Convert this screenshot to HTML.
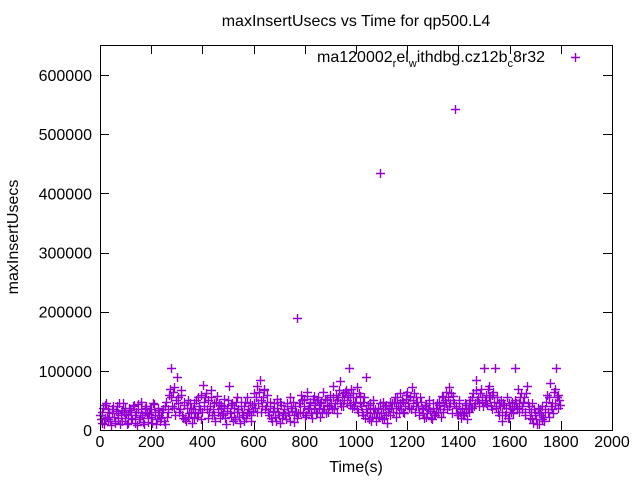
<!DOCTYPE html>
<html><head><meta charset="utf-8"><style>
html,body{margin:0;padding:0;background:#fff;}
svg text{font-family:"Liberation Sans",sans-serif;font-size:16px;fill:#000;}
</style></head><body>
<svg id="chart" width="640" height="480" xmlns="http://www.w3.org/2000/svg">
<text x="356" y="26" text-anchor="middle">maxInsertUsecs vs Time for qp500.L4</text>
<text x="356" y="472" text-anchor="middle">Time(s)</text>
<text transform="translate(18,237) rotate(-90)" text-anchor="middle">maxInsertUsecs</text>
<g id="ticks"></g>
<g id="points"></g>
<rect x="100.5" y="45.5" width="512" height="385" fill="none" stroke="#000" stroke-width="1"/>
<g>
<text x="545" y="62" text-anchor="end">ma120002<tspan font-size="11" dy="5">r</tspan><tspan dy="-5">el</tspan><tspan font-size="11" dy="5">w</tspan><tspan dy="-5">ithdbg.cz12b</tspan><tspan font-size="11" dy="5">c</tspan><tspan dy="-5">8r32</tspan></text>
<path d="M571,57.5h9M575.5,53v9" stroke="#9400d3" stroke-width="1.4"/>
</g>
</svg>
<script>
const xTicks=[0,200,400,600,800,1000,1200,1400,1600,1800,2000];
const yTicks=[0,100000,200000,300000,400000,500000,600000];
const timeStep=6;
const valuesK=[
25,12,38,20,45,18,30,8,35,22,
15,40,28,10,33,46,20,27,12,38,
30,18,42,25,9,36,22,48,14,31,
40,20,27,35,12,44,26,18,38,15,
22,35,10,48,30,60,105,40,72,25,
90,55,35,68,20,42,15,50,28,38,
12,45,30,22,55,35,18,76,40,62,
50,30,68,25,45,15,58,35,20,42,
28,52,10,38,75,22,45,30,18,55,
35,12,48,25,40,20,55,30,15,42,
62,38,75,45,85,30,55,70,40,60,
25,48,15,38,22,52,30,12,42,28,
35,18,45,25,55,32,14,40,190,28,
45,60,30,52,25,65,38,48,20,58,
42,30,55,22,48,65,35,28,50,40,
60,35,75,45,28,55,82,40,62,50,
68,45,105,55,38,62,48,72,30,58,
40,25,55,90,30,18,45,22,50,35,
15,38,435,28,48,20,42,12,35,25,
45,30,55,22,40,62,35,48,28,52,
65,38,58,72,45,30,55,40,25,48,
35,20,42,28,50,32,18,45,25,38,
30,48,22,55,40,65,35,72,45,28,
58,543,38,25,45,20,35,28,42,18,
30,50,38,62,45,85,55,40,70,48,
105,60,42,75,55,35,65,105,40,30,
25,50,15,42,30,55,20,38,48,28,
105,45,70,30,62,40,55,25,75,35,
20,45,12,30,18,38,10,25,40,15,
35,60,22,80,45,28,70,105,38,50
];
const valuesK2=[
18,30,10,42,22,35,15,28,40,12,
32,20,45,25,16,30,38,10,25,34,
20,40,12,30,44,18,35,25,10,38,
28,14,36,22,45,30,10,34,25,20,
30,15,40,22,35,70,55,65,38,50,
45,30,60,25,48,18,38,22,45,30,
35,20,50,28,40,60,30,48,55,35,
20,40,55,35,25,48,30,45,38,25,
40,20,32,50,28,42,15,38,48,30,
22,40,30,15,48,28,36,45,25,32,
45,55,30,65,50,40,68,35,48,30,
40,20,32,45,15,38,25,48,20,35,
25,40,30,15,38,48,25,30,20,45,
30,50,40,22,58,35,45,28,52,35,
30,50,38,45,28,35,52,42,30,55,
45,55,38,60,50,68,45,55,40,65,
50,60,42,70,48,40,55,35,62,45,
30,48,20,35,42,28,15,38,28,20,
30,22,45,18,35,40,25,30,48,38,
30,48,38,55,28,45,50,30,40,60,
45,55,35,50,62,40,48,30,55,38,
28,40,22,35,45,20,38,28,30,45,
42,35,58,30,50,45,55,40,62,50,
45,40,28,50,30,38,25,45,30,35,
45,38,55,40,68,50,45,62,55,40,
50,45,70,55,40,60,48,38,55,45,
40,30,45,25,38,20,45,30,35,40,
50,38,45,55,35,48,30,62,45,40,
30,18,35,25,10,28,35,18,22,30,
48,30,55,40,35,65,45,55,60,42
];
const NS='http://www.w3.org/2000/svg';
const X0=100,X1=612,Y0=430,Y1=75;
function xs(v){return X0+(v-0)/2000*(X1-X0);}
function ys(v){return Y0-(v/600000)*(Y0-Y1);}
const tg=document.getElementById('ticks');
xTicks.forEach(t=>{
  const x=Math.round(xs(t))+0.5;
  const p=document.createElementNS(NS,'path');
  
  
  p.setAttribute('d',`M${x},430V421M${x},45V54`);
  p.setAttribute('stroke','#000');
  tg.appendChild(p);
  const l=document.createElementNS(NS,'text');
  
  
  l.setAttribute('x',xs(t));l.setAttribute('y',447);
  l.setAttribute('text-anchor','middle');
  l.textContent=t;tg.appendChild(l);
});
yTicks.forEach(t=>{
  const y=Math.round(ys(t))+0.5;
  const p=document.createElementNS(NS,'path');
  
  
  p.setAttribute('d',`M100,${y}H109M612,${y}H603`);
  p.setAttribute('stroke','#000');
  tg.appendChild(p);
  const l=document.createElementNS(NS,'text');
  
  
  l.setAttribute('x',92);l.setAttribute('y',ys(t)+6);
  l.setAttribute('text-anchor','end');
  l.textContent=t;tg.appendChild(l);
});
const pg=document.getElementById('points');
let d='';
function addMark(t,v){
  const x=Math.round(xs(t))+0.5, y=Math.round(ys(v*1000))+0.5;
  d+=`M${x-4.5},${y}h9M${x},${y-4.5}v9`;
}
valuesK.forEach((v,i)=>addMark(i*timeStep,v));
valuesK2.forEach((v,i)=>addMark(i*timeStep+timeStep/2,v));
const pts=document.createElementNS(NS,'path');


pts.setAttribute('d',d);
pts.setAttribute('stroke','#9400d3');
pts.setAttribute('stroke-width','1.4');
pts.setAttribute('fill','none');
pg.appendChild(pts);
</script>
</body></html>
